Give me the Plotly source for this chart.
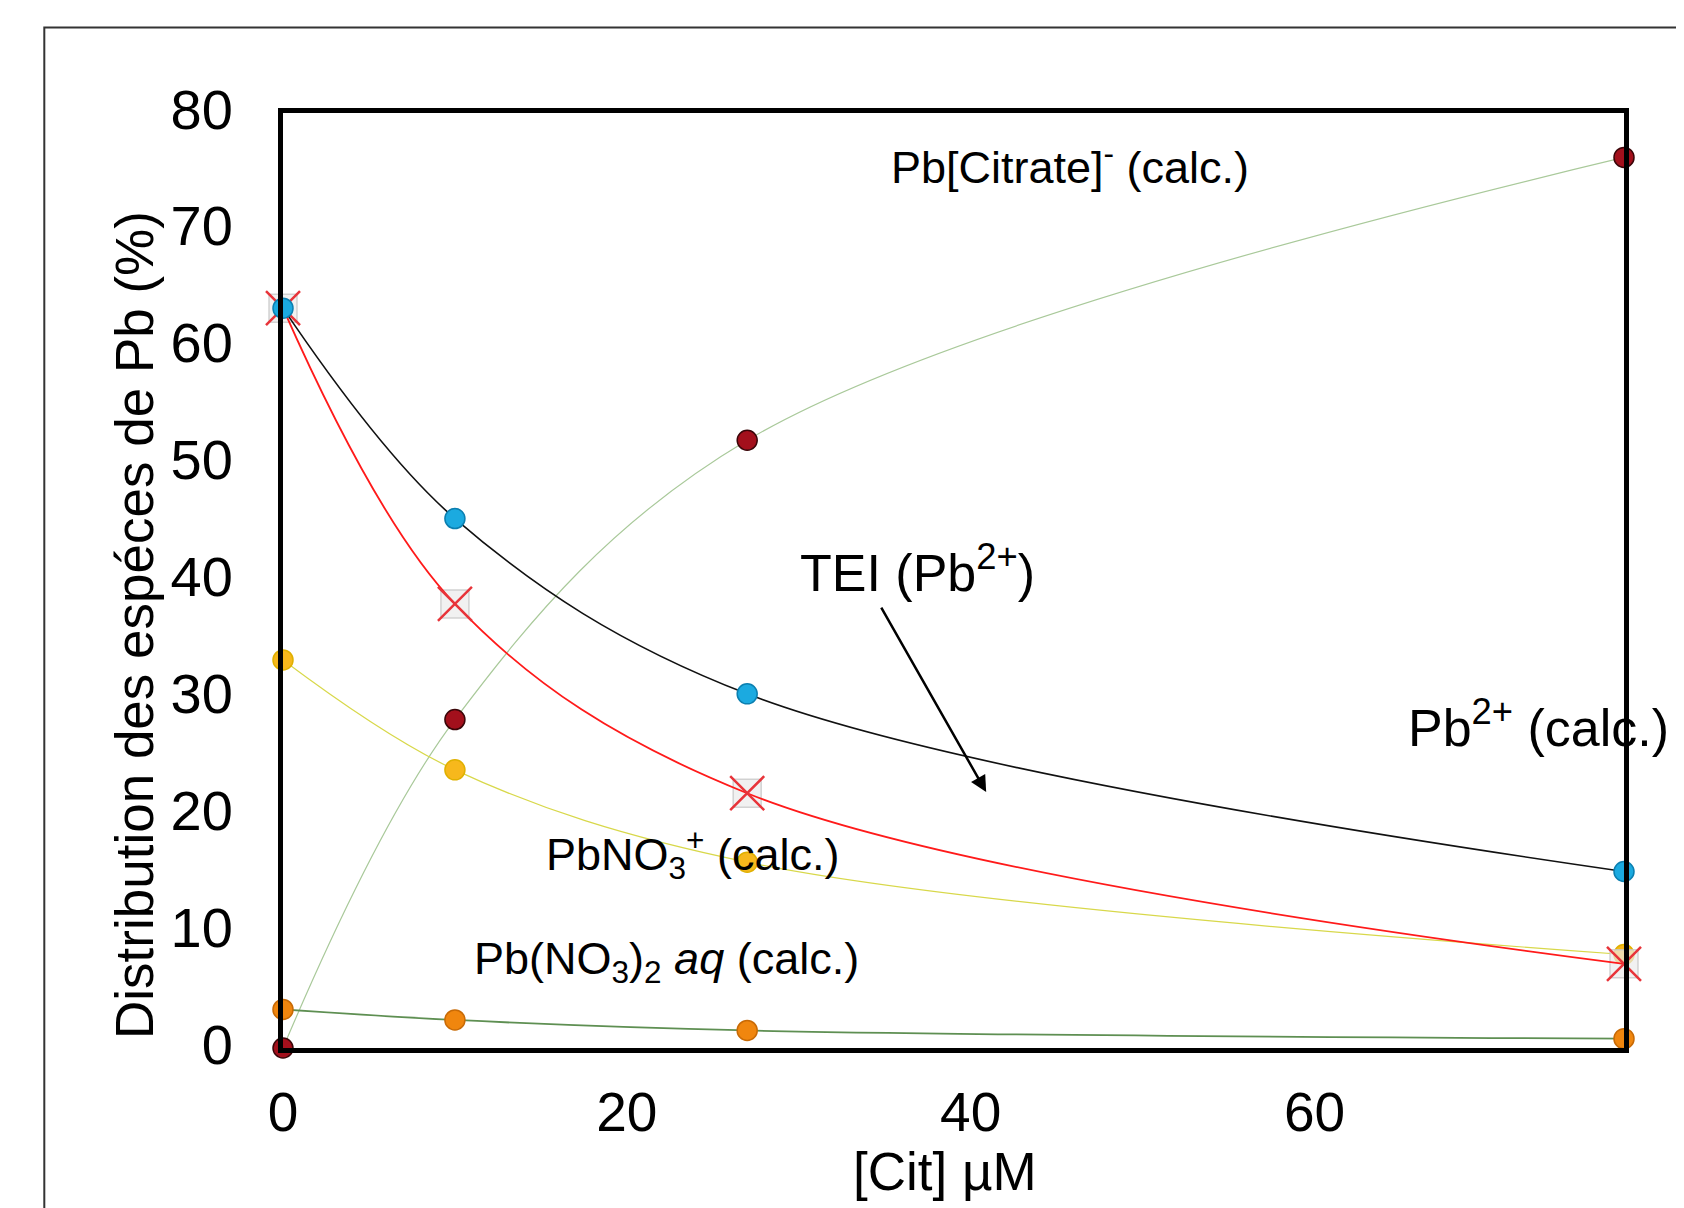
import plotly.graph_objects as go

cit = [0, 10, 27, 78]
pb2_calc = [63.3, 45.3, 30.3, 15.1]
tei = [63.3, 38.0, 21.8, 7.2]
pb_citrate = [0.0, 28.1, 52.0, 76.2]
pbno3 = [33.2, 23.8, 15.9, 8.0]
pbno3_2 = [3.3, 2.4, 1.5, 0.8]

FONT = "Liberation Sans, Arial, sans-serif"

fig = go.Figure()

def add(y, lcolor, lwidth, mfill, mline, msize=20, symbol="circle", mlw=1.5, mode="lines+markers"):
    fig.add_trace(go.Scatter(
        x=cit, y=y, mode=mode,
        line=dict(color=lcolor, width=lwidth, shape="spline", smoothing=1.0),
        marker=dict(color=mfill, size=msize, symbol=symbol,
                    line=dict(color=mline, width=mlw)),
        cliponaxis=False, showlegend=False))

add(pb_citrate, "#A9C99A", 1.2, "#A3101C", "#3A0508")
add(pbno3_2, "#5E8F52", 1.8, "#F0860E", "#C86A05")
add(pbno3, "#D8D84A", 1.2, "#F7B81C", "#E0B000")
# faint square shadow behind TEI crosses
add(tei, "rgba(0,0,0,0)", 0, "rgba(235,235,235,0.7)", "rgba(200,200,200,0.8)",
    msize=28, symbol="square", mlw=1.5, mode="markers")
add(tei, "#FF1A1A", 1.8, "rgba(0,0,0,0)", "#E8343A", msize=34, symbol="x-thin", mlw=2.5)
add(pb2_calc, "#111111", 1.6, "#1BAAE0", "#0B7FB0")

ann_font = dict(family=FONT, color="black")
annotations = [
    dict(x=45.8, y=75.6, text="Pb[Citrate]<sup>-</sup> (calc.)", font=dict(size=45, **ann_font)),
    dict(x=36.9, y=41.0, text="TEI (Pb<sup>2+</sup>)", font=dict(size=52, **ann_font)),
    dict(x=73.0, y=27.7, text="Pb<sup>2+</sup> (calc.)", font=dict(size=52, **ann_font)),
    dict(x=23.8, y=16.6, text="PbNO<sub>3</sub><sup>+</sup> (calc.)", font=dict(size=45, **ann_font)),
    dict(x=22.3, y=7.4, text="Pb(NO<sub>3</sub>)<sub>2</sub> <i>aq</i> (calc.)", font=dict(size=45, **ann_font)),
]
for a in annotations:
    fig.add_annotation(xref="x", yref="y", showarrow=False, **a)

# arrow
fig.add_annotation(x=40.9, y=21.9, ax=34.75, ay=37.8, xref="x", yref="y",
                   axref="x", ayref="y", text="", showarrow=True,
                   arrowhead=2, arrowsize=1.3, arrowwidth=2.5, arrowcolor="black")

# axis titles
fig.add_annotation(xref="paper", yref="paper", x=-0.1107, y=0.452,
                   xanchor="center", yanchor="middle",
                   text="Distribution des espéces de Pb (%)", textangle=-90,
                   showarrow=False, font=dict(size=53, family=FONT, color="black"))
fig.add_annotation(xref="paper", yref="paper", x=0.494, y=-0.1316,
                   xanchor="center", yanchor="middle",
                   text="[Cit] µM", showarrow=False,
                   font=dict(size=53, family=FONT, color="black"))

# outer frame
fig.add_shape(type="rect", xref="paper", yref="paper",
              x0=-0.178, y0=-0.4, x1=1.3, y1=1.0915,
              line=dict(color="#333333", width=2), layer="below")

fig.update_layout(
    width=1684, height=1208,
    margin=dict(l=275, r=68, t=105, b=168),
    paper_bgcolor="white", plot_bgcolor="white",
    font=dict(family=FONT, color="black"),
)
fig.update_xaxes(range=[0, 78], tickvals=[0, 20, 40, 60], showgrid=False, zeroline=False,
                 showline=True, mirror=True, linecolor="black", linewidth=5,
                 ticks="", tickfont=dict(size=55), ticklabelstandoff=12, automargin=False)
fig.update_yaxes(range=[0, 80], dtick=10, showgrid=False, zeroline=False,
                 showline=True, mirror=True, linecolor="black", linewidth=5,
                 ticks="", tickfont=dict(size=56), ticklabelstandoff=34, ticklabelshift=-4,
                 automargin=False)

fig.write_html("out.html")
